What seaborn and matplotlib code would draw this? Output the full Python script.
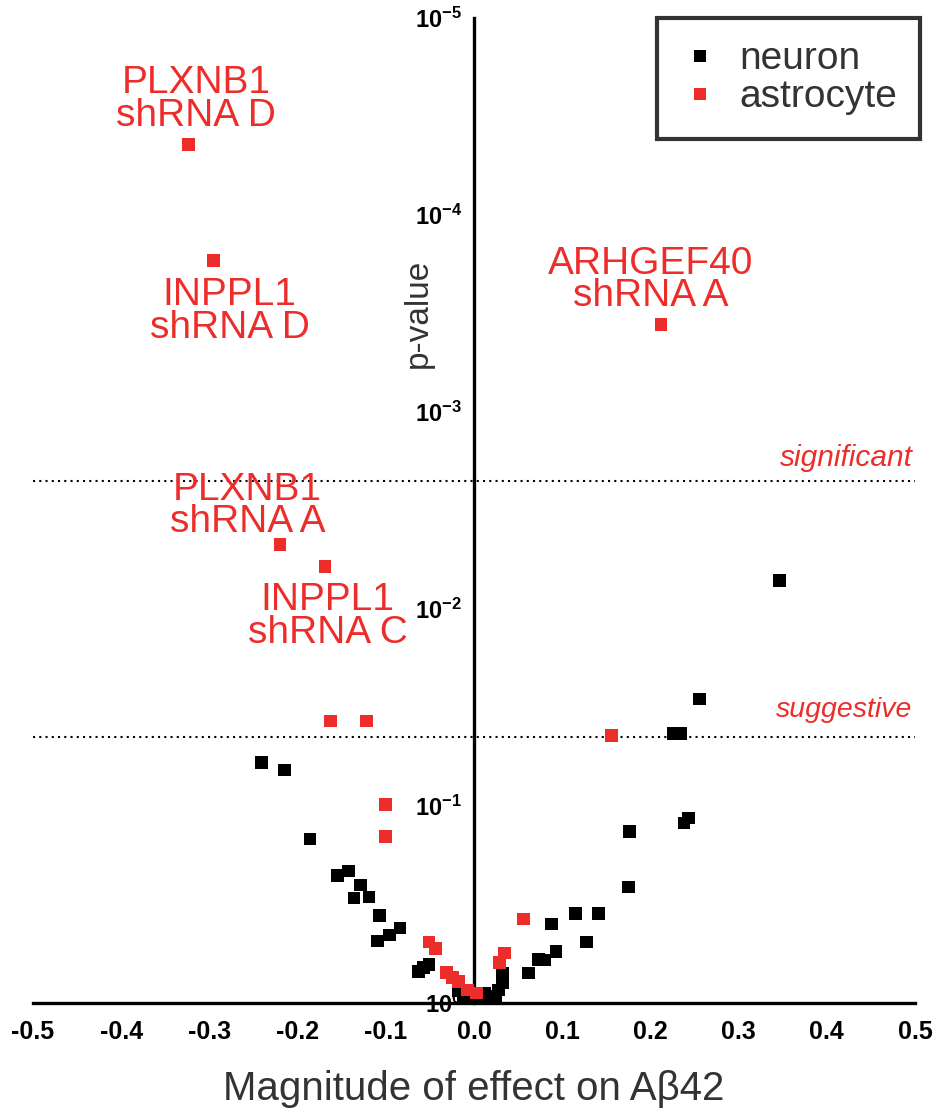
import numpy as np
import pandas as pd
import matplotlib
matplotlib.use("Agg")
import matplotlib.pyplot as plt
from matplotlib import font_manager
from matplotlib.lines import Line2D
import matplotlib.ticker as mticker
import seaborn as sns

# ---------------- data ----------------
neuron_x = [0.346, 0.256, 0.226, 0.234, 0.243, 0.238, 0.176, 0.175, 0.115, 0.141,
            0.088, 0.128, 0.093, 0.080, 0.073, 0.062, 0.032, 0.032, 0.028, 0.012,
            0.024, -0.007, -0.018, 0.000, 0.008, -0.012, 0.018,
            -0.241, -0.215, -0.186, -0.155, -0.142, -0.129, -0.136, -0.119,
            -0.107, -0.084, -0.096, -0.109, -0.063, -0.051, -0.057]
neuron_p = [7.2e-3, 0.0286, 0.043, 0.043, 0.115, 0.122, 0.135, 0.258, 0.35, 0.35,
            0.397, 0.49, 0.55, 0.605, 0.60, 0.705, 0.705, 0.79, 0.86, 0.89,
            0.93, 0.90, 0.87, 0.95, 0.97, 0.96, 0.98,
            0.060, 0.0656, 0.147, 0.226, 0.214, 0.252, 0.293, 0.29,
            0.361, 0.416, 0.452, 0.484, 0.689, 0.64, 0.66]

astro_x = [-0.324, -0.295, 0.212, -0.220, -0.169, -0.163, -0.122, 0.156,
           -0.100, -0.100, 0.056, -0.051, -0.044, -0.031, -0.024, -0.018,
           -0.007, 0.003, 0.029, 0.035]
astro_p = [4.4e-5, 1.7e-4, 3.6e-4, 4.7e-3, 6.1e-3, 0.037, 0.037, 0.044,
           0.098, 0.143, 0.375, 0.49, 0.53, 0.70, 0.74, 0.78,
           0.86, 0.89, 0.62, 0.557]

ann_labels = ["PLXNB1\nshRNA D", "INPPL1\nshRNA D", "ARHGEF40\nshRNA A",
              "PLXNB1\nshRNA A", "INPPL1\nshRNA C"]
ann_x = [-0.315, -0.277, 0.200, -0.257, -0.166]
ann_p = [2.6e-5, 3.1e-4, 2.14e-4, 3.0e-3, 1.09e-2]

sig_p = 2.24e-3
sug_p = 0.0447
threshold_labels = ["significant", "suggestive"]

x_ticks = [-0.5, -0.4, -0.3, -0.2, -0.1, 0.0, 0.1, 0.2, 0.3, 0.4, 0.5]
y_ticks = [1e-5, 1e-4, 1e-3, 1e-2, 1e-1, 1e0]
y_exps = [-5, -4, -3, -2, -1, 0]

cell_names = ["neuron", "astrocyte"]
RED = "#EC2D2A"
colors = {"neuron": "black", "astrocyte": RED}

df = pd.DataFrame({
    "effect": neuron_x + astro_x,
    "p": neuron_p + astro_p,
    "cell": ["neuron"] * len(neuron_x) + ["astrocyte"] * len(astro_x),
})

# ---------------- style ----------------
sns.set_style("white")
names = {f.name for f in font_manager.fontManager.ttflist}
tick_font = "Liberation Sans Narrow" if "Liberation Sans Narrow" in names else "Liberation Sans"
plt.rcParams["font.family"] = ["Liberation Sans", "DejaVu Sans"]
plt.rcParams["axes.unicode_minus"] = False
plt.rcParams["mathtext.default"] = "regular"

fig = plt.figure(figsize=(9.43, 11.08), dpi=100)
ax = fig.add_axes([33 / 943, 1 - 1003 / 1108, 882 / 943, 985 / 1108])

sns.scatterplot(data=df, x="effect", y="p", hue="cell", palette=colors,
                hue_order=cell_names, marker="s", s=85, linewidth=0,
                legend=False, ax=ax, zorder=3)

ax.set_yscale("log")
ax.set_xlim(-0.5, 0.5)
ax.set_ylim(1, 1e-5)

# spines
for s in ["top", "right"]:
    ax.spines[s].set_visible(False)
ax.spines["left"].set_position(("data", 0))
ax.spines["left"].set_linewidth(2.4)
ax.spines["bottom"].set_linewidth(2.4)
ax.spines["left"].set_color("black")
ax.spines["bottom"].set_color("black")

# ticks
ax.set_xticks(x_ticks)
ax.set_xticklabels([f"{v:.1f}" for v in x_ticks])
ax.tick_params(axis="x", which="major", direction="out", length=8, width=2.2,
               pad=4, labelsize=18, colors="black")
for lab in ax.get_xticklabels():
    lab.set_fontfamily(tick_font)
    lab.set_fontweight("bold")

ax.set_yticks(y_ticks)
ax.set_yticklabels([f"$10^{{{e}}}$" for e in y_exps])
ax.yaxis.set_minor_locator(mticker.LogLocator(base=10, subs=np.arange(2, 10)))
ax.yaxis.set_minor_formatter(mticker.NullFormatter())
ax.tick_params(axis="y", which="major", direction="out", length=6.5, width=1.8,
               pad=2, labelsize=17, colors="black")
ax.tick_params(axis="y", which="minor", direction="out", length=4.5, width=1.6)
for lab in ax.get_yticklabels():
    lab.set_fontfamily(tick_font)
    lab.set_fontweight("bold")

# labels
ax.set_xlabel("Magnitude of effect on Aβ42", fontsize=29, color="#333333")
ax.xaxis.set_label_coords(0.5, -0.068)
ax.set_ylabel("")
ax.text(-0.063, 3.14e-4, "p-value", rotation=90, ha="center", va="center",
        fontsize=24, color="#333333")

# thresholds
ax.axhline(sig_p, color="black", linestyle=(0, (1, 2)), linewidth=1.5, zorder=1)
ax.axhline(sug_p, color="black", linestyle=(0, (1, 2)), linewidth=1.5, zorder=1)
ax.text(0.497, 1.71e-3, threshold_labels[0], ha="right", va="center",
        fontsize=21.5, style="italic", color=RED)
ax.text(0.497, 3.26e-2, threshold_labels[1], ha="right", va="center",
        fontsize=20.5, style="italic", color=RED)

# annotations
for lab, xx, pp in zip(ann_labels, ann_x, ann_p):
    ax.text(xx, pp, lab, ha="center", va="center", multialignment="center",
            fontsize=28, color=RED, linespacing=0.88)

# legend
handles = [Line2D([0], [0], marker="s", linestyle="none", markersize=8.5,
                  markerfacecolor=colors[c], markeredgewidth=0) for c in cell_names]
leg = ax.legend(handles, cell_names, loc="upper right",
                bbox_to_anchor=(1.006, 1.0), borderaxespad=0, fontsize=28,
                frameon=True, fancybox=False, borderpad=0.6,
                handlelength=1.0, handletextpad=0.5, labelspacing=0.05)
leg.get_frame().set_edgecolor("black")
leg.get_frame().set_linewidth(3)
for t in leg.get_texts():
    t.set_color("#333333")

fig.savefig("out.png", dpi=100)
